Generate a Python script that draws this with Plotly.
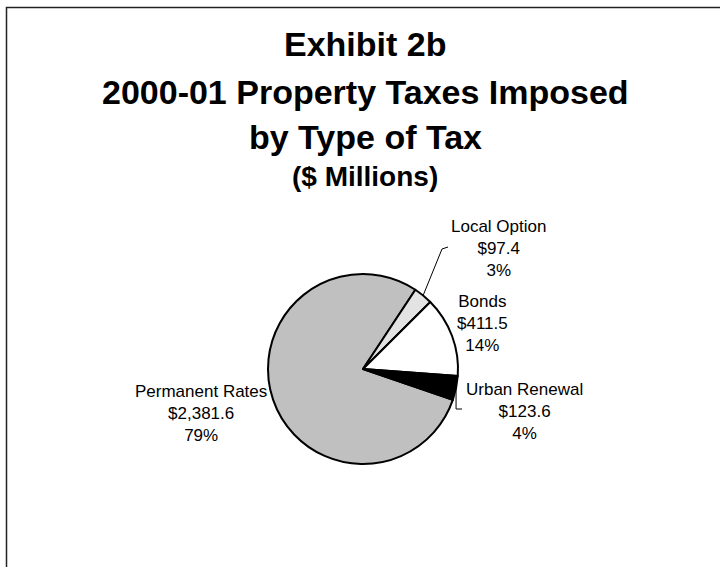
import math
import plotly.graph_objects as go

# ---- data ----
categories = ["Permanent Rates", "Local Option", "Bonds", "Urban Renewal"]
values = [2381.6, 97.4, 411.5, 123.6]
slice_colors = ["#C0C0C0", "#E3E3E3", "#FFFFFF", "#000000"]
title_lines = ["Exhibit 2b", "2000-01 Property Taxes Imposed", "by Type of Tax", "($ Millions)"]

W, H = 720, 567
def px(x): return x / W
def py(y): return 1 - y / H

FONT = "Arial, Liberation Sans, sans-serif"

# pie geometry (pixels)
cx, cy, R = 363, 369, 95
rotation = 109

fig = go.Figure()
fig.add_trace(go.Pie(
    labels=categories, values=values, sort=False, direction="clockwise",
    rotation=rotation, textinfo="none", hoverinfo="none",
    marker=dict(colors=slice_colors, line=dict(color="#000000", width=2)),
    domain=dict(x=[px(cx - R), px(cx + R)], y=[py(cy + R), py(cy - R)]),
    showlegend=False,
))

total = sum(values)
pcts = [v / total * 100 for v in values]

# label layout positions (pixel centers)
label_pos = {
    "Permanent Rates": (201, 413),
    "Local Option": (498, 249),
    "Bonds": (483, 323),
    "Urban Renewal": (524, 411),
}
annotations = []
for name, v, p in zip(categories, values, pcts):
    x, y = label_pos[name]
    annotations.append(dict(
        x=px(x), y=py(y), xref="paper", yref="paper", xanchor="center", yanchor="middle",
        text=f"{name}<br>${v:,.1f}<br>{p:.0f}%", showarrow=False, align="center",
        font=dict(family=FONT, size=17, color="#000000"),
    ))

# titles
title_y = [44, 92, 137, 177]
title_sizes = [34, 34, 34, 28]
for t, y, s in zip(title_lines, title_y, title_sizes):
    annotations.append(dict(
        x=px(365), y=py(y), xref="paper", yref="paper", xanchor="center", yanchor="middle",
        text=f"<b>{t}</b>", showarrow=False, font=dict(family=FONT, size=s, color="#000000"),
    ))

# leader lines from slice midpoints
def mid_point(idx):
    start = rotation + sum(pcts[:idx]) * 3.6
    ang = math.radians(start + pcts[idx] * 3.6 / 2)
    return cx + R * math.sin(ang), cy - R * math.cos(ang)

shapes = []
# Local Option
x0, y0 = mid_point(1)
shapes.append(dict(type="path", xref="paper", yref="paper",
                   path=f"M {px(x0)},{py(y0)} L {px(442)},{py(249)} L {px(448)},{py(247)}",
                   line=dict(color="#000000", width=1)))
# Urban Renewal
x0, y0 = mid_point(3)
shapes.append(dict(type="path", xref="paper", yref="paper",
                   path=f"M {px(x0)},{py(y0)} L {px(x0)},{py(409)} L {px(462)},{py(409)}",
                   line=dict(color="#000000", width=1)))
# frame
shapes.append(dict(type="rect", xref="paper", yref="paper",
                   x0=px(6.5), x1=1.1, y0=-0.1, y1=py(7.5),
                   line=dict(color="#222222", width=1.5)))

fig.update_layout(
    width=W, height=H, margin=dict(l=0, r=0, t=0, b=0),
    paper_bgcolor="#FFFFFF", plot_bgcolor="#FFFFFF",
    annotations=annotations, shapes=shapes,
)
fig.write_html("out.html")
